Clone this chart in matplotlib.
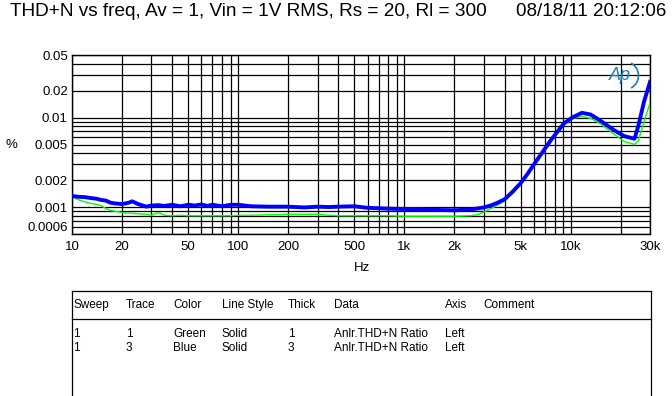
import matplotlib
matplotlib.use("Agg")
import matplotlib.pyplot as plt
from matplotlib.lines import Line2D
from matplotlib.patches import Arc
from matplotlib.ticker import FixedLocator, NullLocator

plt.rcParams['font.family'] = ['Liberation Sans', 'DejaVu Sans']

W, H = 672, 396

title = "THD+N vs freq, Av = 1, Vin = 1V RMS, Rs = 20, Rl = 300"
stamp = "08/18/11 20:12:06"

freq = [10, 11, 12, 13, 14, 15, 16, 17, 18, 20, 22, 23, 25, 28, 30, 33, 36, 40,
        45, 50, 55, 60, 65, 70, 80, 90, 100, 120, 150, 200, 250, 300, 350, 400,
        500, 600, 700, 800, 1000, 1200, 1500, 2000, 2500, 2800, 3000, 3300, 3600,
        4000, 4500, 5000, 5500, 6300, 7600, 9100, 10200, 11700, 13200, 15000,
        18300, 21000, 24200, 25500, 27600, 30000]

thdn_blue = [0.00133, 0.00130, 0.00129, 0.00126, 0.00124, 0.00120, 0.00118,
             0.00112, 0.00110, 0.00108, 0.00112, 0.00116, 0.00108, 0.00101,
             0.00104, 0.00105, 0.00103, 0.00106, 0.00102, 0.00106, 0.00104,
             0.00107, 0.00103, 0.00106, 0.00102, 0.00106, 0.00106, 0.00102,
             0.00101, 0.00101, 0.00099, 0.00101, 0.00100, 0.00101, 0.00102,
             0.00098, 0.00097, 0.00096, 0.00095, 0.00095, 0.00093, 0.00092,
             0.00094, 0.00097, 0.00099, 0.00104, 0.00111, 0.00122, 0.00150,
             0.00185, 0.00235, 0.0034, 0.0056, 0.0086, 0.0100, 0.0113, 0.0108,
             0.0093, 0.0072, 0.0062, 0.0058, 0.0080, 0.0150, 0.0250]

thdn_green = [0.00130, 0.00120, 0.00114, 0.00110, 0.00107, 0.00104, 0.00096,
              0.00092, 0.00090, 0.00087, 0.00086, 0.00085, 0.00084, 0.00083,
              0.00081, 0.00087, 0.00081, 0.00080, 0.00081, 0.00080, 0.00080,
              0.00080, 0.00080, 0.00080, 0.00080, 0.00080, 0.00081, 0.00081,
              0.00082, 0.00083, 0.00083, 0.00083, 0.00081, 0.00080, 0.00080,
              0.00080, 0.00080, 0.00080, 0.00079, 0.00079, 0.00079, 0.00079,
              0.00080, 0.00083, 0.00088, 0.00096, 0.00104, 0.00117, 0.00145,
              0.00180, 0.00228, 0.0033, 0.0054, 0.0082, 0.0097, 0.0103, 0.0098,
              0.0086, 0.0065, 0.0054, 0.0050, 0.0055, 0.0090, 0.0145]

x_grid = [10, 20, 30, 40, 50, 60, 70, 80, 90, 100, 200, 300, 400, 500, 600, 700,
          800, 900, 1000, 2000, 3000, 4000, 5000, 6000, 7000, 8000, 9000, 10000,
          20000, 30000]
x_labels = {10: "10", 20: "20", 50: "50", 100: "100", 200: "200", 500: "500",
            1000: "1k", 2000: "2k", 5000: "5k", 10000: "10k", 30000: "30k"}
y_grid = [0.0005, 0.0006, 0.0007, 0.0008, 0.0009, 0.001, 0.002, 0.003, 0.004,
          0.005, 0.006, 0.007, 0.008, 0.009, 0.01, 0.02, 0.03, 0.04, 0.05]
y_labels = {0.0006: "0.0006", 0.001: "0.001", 0.002: "0.002", 0.005: "0.005",
            0.01: "0.01", 0.02: "0.02", 0.05: "0.05"}

table_head = ["Sweep", "Trace", "Color", "Line Style", "Thick", "Data", "Axis", "Comment"]
table_rows = [["1", "1", "Green", "Solid", "1", "Anlr.THD+N Ratio", "Left", ""],
              ["1", "3", "Blue", "Solid", "3", "Anlr.THD+N Ratio", "Left", ""]]
col_x = [73, 126, 173, 222, 288, 334, 445, 483]


def fx(x):
    return x / W


def fy(y):
    return 1 - y / H


fig = plt.figure(figsize=(W / 100, H / 100), dpi=100)
ax = fig.add_axes([fx(72), fy(234), (650 - 72) / W, (234 - 55) / H])
ax.set_xscale('log')
ax.set_yscale('log')
ax.set_xlim(10, 30000)
ax.set_ylim(0.0005, 0.05)

ax.xaxis.set_major_locator(FixedLocator(x_grid))
ax.xaxis.set_minor_locator(NullLocator())
ax.set_xticklabels([x_labels.get(v, "") for v in x_grid])
ax.yaxis.set_major_locator(FixedLocator(y_grid))
ax.yaxis.set_minor_locator(NullLocator())
ax.set_yticklabels([y_labels.get(v, "") for v in y_grid])
ax.tick_params(length=0, labelsize=9.5, pad=3)
ax.tick_params(axis='x', pad=5)
ax.grid(True, color='black', lw=0.9)
for s in ax.spines.values():
    s.set_linewidth(1.0)

ax.plot(freq, thdn_green, color='#00ff00', lw=1.0, zorder=3)
ax.plot(freq, thdn_blue, color='#0000ff', lw=2.8, zorder=4)

# AP logo
ax.text(0.967, 0.885, "Ap", transform=ax.transAxes, ha='right', va='center',
        fontsize=13, style='italic', color='#1a7fb5', zorder=5)
ax.add_patch(Arc((0.955, 0.885), 0.05, 0.16, theta1=-80, theta2=80,
                 transform=ax.transAxes, color='#1a7fb5', lw=1.2, zorder=5))

fig.text(fx(10), fy(12), title, fontsize=13.7, va='center', ha='left')
fig.text(fx(516), fy(12), stamp, fontsize=13.5, va='center', ha='left')
fig.text(fx(5), fy(145), "%", fontsize=9.5, va='center', ha='left')
fig.text(fx(362), fy(268), "Hz", fontsize=9.5, va='center', ha='center')

# legend table
lc = dict(color='black', lw=0.9)
fig.add_artist(Line2D([fx(72), fx(651)], [fy(291), fy(291)], **lc))
fig.add_artist(Line2D([fx(72), fx(72)], [fy(291), fy(396)], **lc))
fig.add_artist(Line2D([fx(651), fx(651)], [fy(291), fy(396)], **lc))
fig.add_artist(Line2D([fx(72), fx(651)], [fy(319), fy(319)], **lc))
for x, t in zip(col_x, table_head):
    fig.text(fx(x), fy(305), t, fontsize=8.5, va='center', ha='left')
for r, row in enumerate(table_rows):
    for x, t in zip(col_x, row):
        fig.text(fx(x), fy(334 + 14 * r), t, fontsize=8.5, va='center', ha='left')

fig.savefig("out.png", dpi=100)
